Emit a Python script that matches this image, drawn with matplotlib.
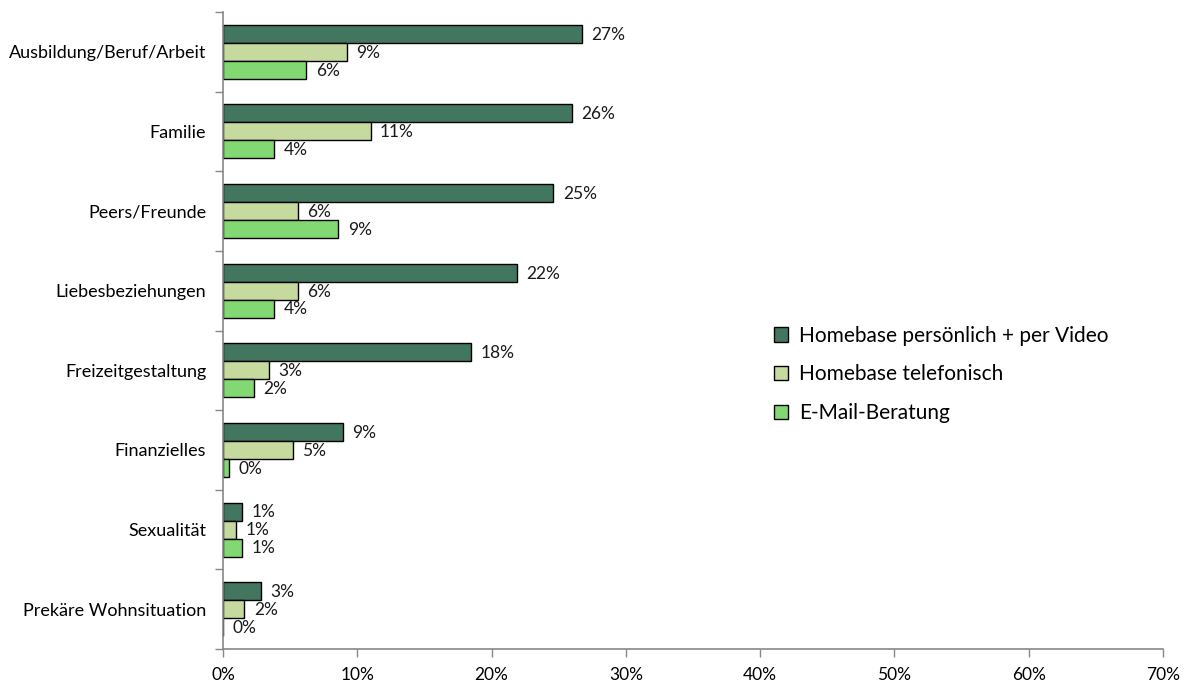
import matplotlib.pyplot as plt
import numpy as np
from matplotlib.ticker import FuncFormatter, MultipleLocator

plt.rcParams['font.family'] = ['Lato', 'DejaVu Sans']

# Themen der Beratung, Anteile in Prozent
categories = ['Ausbildung/Beruf/Arbeit', 'Familie', 'Peers/Freunde', 'Liebesbeziehungen',
              'Freizeitgestaltung', 'Finanzielles', 'Sexualität', 'Prekäre Wohnsituation']
persoenlich = [26.7, 26.0, 24.6, 21.9, 18.5, 8.9, 1.4, 2.8]
telefonisch = [9.2, 11.0, 5.6, 5.6, 3.4, 5.2, 1.0, 1.6]
email = [6.2, 3.8, 8.6, 3.8, 2.3, 0.45, 1.4, 0.0]

series = [
    ('Homebase persönlich + per Video', persoenlich, '#43765F'),
    ('Homebase telefonisch', telefonisch, '#C6D99E'),
    ('E-Mail-Beratung', email, '#82D873'),
]

fig = plt.figure(figsize=(11.88, 6.87), dpi=100)
ax = fig.add_axes([0.1877, 0.0553, 0.7913, 0.9272])

y = np.arange(len(categories))
h = 0.226
for i, (name, vals, col) in enumerate(series):
    pos = y + (i - 1) * h
    bars = ax.barh(pos, vals, height=h, color=col, edgecolor='black', linewidth=1.0, label=name)
    for b, v in zip(bars, vals):
        ax.text(v + 0.7, b.get_y() + h / 2 + 0.01, f'{v:.0f}%', va='center', ha='left',
                fontsize=12.5, color='#1a1a1a')

ax.set_xlim(0, 70)
ax.set_ylim(len(categories) - 0.5, -0.5)
ax.xaxis.set_major_locator(MultipleLocator(10))
ax.xaxis.set_major_formatter(FuncFormatter(lambda v, p: f'{v:.0f}%'))
ax.set_yticks(y)
ax.set_yticklabels(categories, fontsize=13)
ax.set_yticks(np.arange(-0.5, len(categories)), minor=True)
ax.tick_params(axis='y', which='major', length=0, pad=12)
ax.tick_params(axis='y', which='minor', length=6, color='#888888', width=1)
ax.tick_params(axis='x', length=6, color='#888888', width=1, labelsize=12.5, pad=7)

for s in ['top', 'right']:
    ax.spines[s].set_visible(False)
for s in ['left', 'bottom']:
    ax.spines[s].set_color('#888888')
    ax.spines[s].set_linewidth(1.2)

ax.legend(loc='center left', bbox_to_anchor=(0.566, 0.431), frameon=False, fontsize=15,
          handlelength=0.7, handleheight=0.7, handletextpad=0.5, labelspacing=0.9)

fig.savefig('out.png', dpi=100)
